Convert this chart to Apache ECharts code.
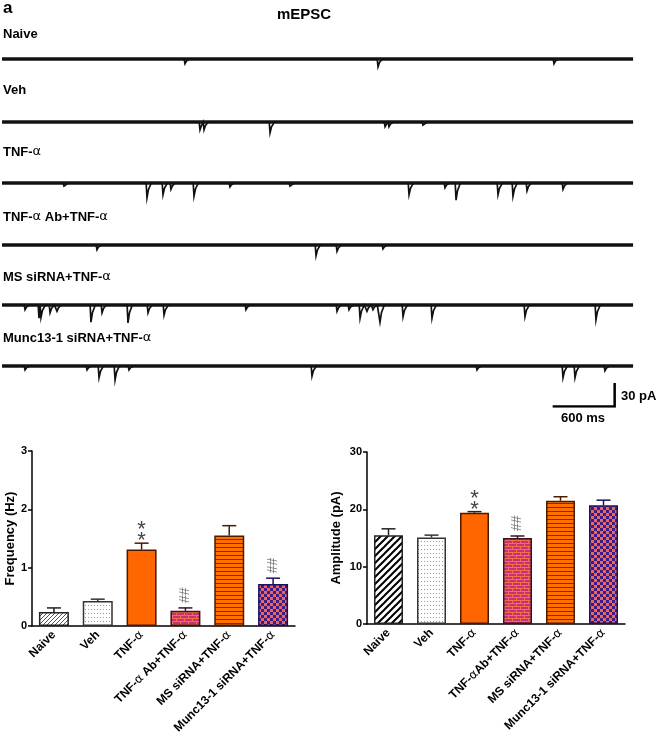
<!DOCTYPE html>
<html><head><meta charset="utf-8">
<script src="https://cdn.jsdelivr.net/npm/echarts@6/dist/echarts.min.js"></script>
<style>html,body{margin:0;padding:0;background:#fff}#c{width:660px;height:742px}</style>
</head><body><div id="c"></div>
<script>
// ---------------- DATA ----------------
const traceNames = ['Naive', 'Veh', 'TNF-α', 'TNF-α Ab+TNF-α', 'MS siRNA+TNF-α', 'Munc13-1 siRNA+TNF-α'];
const traceLengthMs = 6107;
// events: [time ms, amplitude pA (inward, drawn downward)]
const evNaive = [[1771, 6], [3639, 10], [5342, 6]];
const evVeh = [[1916, 10], [1955, 10], [2594, 14], [3707, 6], [3745, 6], [4074, 4]];
const evTNF = [[600, 4], [1403, 19], [1558, 15], [1635, 8], [1858, 17], [2206, 5], [2787, 4], [3939, 15], [4287, 6], [4394, 22], [4800, 15], [4945, 17], [5081, 10], [5429, 8]];
const evTNFAb = [[919, 6], [3039, 14], [3242, 8], [3687, 5]];
const evMS = [[223, 6], [358, 17], [377, 16], [465, 10], [532, 8], [861, 22], [968, 10], [1219, 23], [1413, 10], [1568, 13], [2361, 6], [3242, 8], [3358, 6], [3465, 17], [3532, 8], [3590, 6], [3658, 22], [3881, 15], [4161, 17], [5061, 15], [5748, 19]];
const evMunc = [[223, 5], [823, 5], [939, 15], [1094, 18], [1229, 5], [3000, 13], [4597, 5], [5429, 15], [5545, 15], [5835, 6]];
const scaleBarMs = 600;
const scaleBarPA = 30;

const freqCats = ['Naive', 'Veh', 'TNF-α', 'TNF-α Ab+TNF-α', 'MS siRNA+TNF-α', 'Munc13-1 siRNA+TNF-α'];
const freqMean = [0.24, 0.43, 1.31, 0.26, 1.55, 0.72];
const freqSEM = [0.07, 0.03, 0.11, 0.05, 0.17, 0.10];
const freqMarks = ['', '', '**', '##', '', '##'];
const freqTicks = [0, 1, 2, 3];

const ampCats = ['Naive', 'Veh', 'TNF-α', 'TNF-αAb+TNF-α', 'MS siRNA+TNF-α', 'Munc13-1 siRNA+TNF-α'];
const ampMean = [15.5, 15.1, 19.4, 15.0, 21.5, 20.7];
const ampSEM = [1.1, 0.4, 0.2, 0.35, 0.7, 0.9];
const ampMarks = ['', '', '**', '##', '', ''];
const ampTicks = [0, 10, 20, 30];

// ---------------- STYLE / LAYOUT ----------------
const FONT = '"Liberation Sans", Arial, sans-serif';
const pxPerMs = 62 / 600;
const pxPerPA = 0.78;
const traceLeft = 2;
const traceWidth = 6200 * pxPerMs;
const baselines = [59, 122, 183, 245, 305, 366];
const labelY = [34, 90, 152, 217, 277, 338];
const allEvents = [evNaive, evVeh, evTNF, evTNFAb, evMS, evMunc];

function pat(w, h, draw) {
  const c = document.createElement('canvas'); c.width = w; c.height = h;
  const g = c.getContext('2d'); draw(g, w, h);
  return { image: c, repeat: 'repeat' };
}
function diag(col, lw, s) {
  return pat(s, s, (g, w, h) => {
    g.fillStyle = '#fff'; g.fillRect(0, 0, w, h);
    g.strokeStyle = col; g.lineWidth = lw;
    g.beginPath();
    g.moveTo(-1, h + 1); g.lineTo(w + 1, -1);
    g.moveTo(-1, 1); g.lineTo(1, -1);
    g.moveTo(w - 1, h + 1); g.lineTo(w + 1, h - 1);
    g.stroke();
  });
}
const pDots = pat(3, 4, (g, w, h) => { g.fillStyle = '#fff'; g.fillRect(0, 0, w, h); g.fillStyle = '#9a9a9a'; g.fillRect(1, 1, 1, 1); });
const pBrick = pat(8, 6, (g, w, h) => {
  g.fillStyle = '#c8307a'; g.fillRect(0, 0, w, h);
  g.fillStyle = '#f07048';
  g.fillRect(0, 0, w, 1); g.fillRect(0, 3, w, 1);
  g.fillRect(0, 0, 1, 3); g.fillRect(4, 3, 1, 3);
});
const pStripe = pat(4, 4, (g, w, h) => { g.fillStyle = '#ff7000'; g.fillRect(0, 0, w, h); g.fillStyle = '#7a3000'; g.fillRect(0, 3, w, 1); });
const pCheck = pat(6, 6, (g, w, h) => {
  g.fillStyle = '#e8685e'; g.fillRect(0, 0, w, h);
  g.fillStyle = '#3a1c8c'; g.fillRect(0, 0, 3, 3); g.fillRect(3, 3, 3, 3);
});
const fillsL = [diag('#555', 1, 4), pDots, '#ff6600', pBrick, pStripe, pCheck];
const fillsR = [diag('#000', 2, 7), pDots, '#ff6600', pBrick, pStripe, pCheck];
const borders = ['#222', '#333', '#4a1800', '#3a1024', '#4a1c00', '#1c1060'];

function buildTrace(ev) {
  const pts = [[0, 0]];
  ev.forEach(([t, a]) => {
    while (pts.length > 1 && pts[pts.length - 1][0] >= t - 8) pts.pop();
    pts.push([t - 8, 0], [t, -a], [t + 14, -a * 0.45], [t + 42, 0]);
  });
  pts.push([traceLengthMs, 0]);
  return pts;
}

function richLabel(s) {
  return s.split('α').map(p => p ? '{b|' + p + '}' : '').join('{a|α}');
}

const grids = [], xAxes = [], yAxes = [], series = [];
baselines.forEach((b, i) => {
  grids.push({ left: traceLeft, width: traceWidth, top: b - 15 * pxPerPA, height: 65 * pxPerPA });
  xAxes.push({ gridIndex: i, type: 'value', min: 0, max: 6200, show: false });
  yAxes.push({ gridIndex: i, type: 'value', min: -50, max: 15, show: false });
  // recording baseline (noise band)
  series.push({ type: 'line', xAxisIndex: i, yAxisIndex: i, data: [[0, 0], [traceLengthMs, 0]], symbol: 'none',
    lineStyle: { color: '#161616', width: 3.4 }, animation: false, silent: true });
  // synaptic events
  series.push({ type: 'line', xAxisIndex: i, yAxisIndex: i, data: buildTrace(allEvents[i]), symbol: 'none',
    lineStyle: { color: '#111', width: 1.7, join: 'miter' }, animation: false, silent: true });
});
// scale bar grid
const sbEnd = 5929;
grids.push({ left: traceLeft, width: traceWidth, top: 383, height: scaleBarPA * pxPerPA });
xAxes.push({ gridIndex: 6, type: 'value', min: 0, max: 6200, show: false });
yAxes.push({ gridIndex: 6, type: 'value', min: 0, max: scaleBarPA, show: false });
series.push({ type: 'line', xAxisIndex: 6, yAxisIndex: 6, symbol: 'none', animation: false,
  data: [[sbEnd - scaleBarMs, 0], [sbEnd, 0], [sbEnd, scaleBarPA]], lineStyle: { color: '#000', width: 2.5, join: 'miter' } });

// bar charts
function addBarChart(gi, cats, mean, sem, marks, ticks, fills, rect, barW, name, nameGap) {
  grids.push({ left: rect.left, top: rect.top, width: rect.width, height: rect.height });
  xAxes.push({ gridIndex: gi, type: 'category', data: cats,
    axisLine: { show: true, lineStyle: { color: '#000', width: 1.5 } }, axisTick: { show: false },
    axisLabel: { rotate: 45, margin: 7, interval: 0, formatter: v => richLabel(v),
      rich: { b: { fontFamily: FONT, fontWeight: 'bold', fontSize: 12, color: '#000' },
              a: { fontFamily: '"DejaVu Sans", sans-serif', fontWeight: 'normal', fontSize: 12, color: '#000' } } } });
  yAxes.push({ gridIndex: gi, type: 'value', min: ticks[0], max: ticks[ticks.length - 1], interval: ticks[1] - ticks[0],
    splitLine: { show: false },
    axisLine: { show: true, lineStyle: { color: '#000', width: 1.5 } },
    axisTick: { show: true, length: 4, lineStyle: { color: '#000', width: 1.5 } },
    axisLabel: { fontFamily: FONT, fontWeight: 'bold', fontSize: 11, color: '#000', margin: 5 },
    name: name, nameLocation: 'middle', nameRotate: 90, nameGap: nameGap,
    nameTextStyle: { fontFamily: FONT, fontWeight: 'bold', fontSize: 13, color: '#000' } });
  series.push({ type: 'bar', xAxisIndex: gi, yAxisIndex: gi, barWidth: barW, animation: false,
    data: mean.map((v, i) => ({ value: v, itemStyle: { color: fills[i], borderColor: borders[i], borderWidth: 1.5 } })) });
  series.push({ type: 'custom', xAxisIndex: gi, yAxisIndex: gi, animation: false, z: 5,
    data: mean.map((v, i) => [i, v, sem[i], i]),
    renderItem: (params, api) => {
      const idx = api.value(3);
      const p0 = api.coord([api.value(0), api.value(1)]);
      const p1 = api.coord([api.value(0), api.value(1) + api.value(2)]);
      const col = borders[idx];
      const ch = [
        { type: 'line', shape: { x1: p0[0], y1: p0[1], x2: p1[0], y2: p1[1] }, style: { stroke: col, lineWidth: 1.5 } },
        { type: 'line', shape: { x1: p1[0] - 7, y1: p1[1], x2: p1[0] + 7, y2: p1[1] }, style: { stroke: col, lineWidth: 1.5 } }
      ];
      const m = marks[idx];
      if (m && m[0] === '*') {
        // two asterisks stacked vertically
        for (let k = 0; k < m.length; k++) {
          const cy = p1[1] - 7 - k * 11;
          ch.push({ type: 'text', x: p1[0], y: cy - 6, style: { text: '*', fill: '#444', font: '22px ' + FONT,
            align: 'center', verticalAlign: 'top' } });
        }
      } else if (m) {
        ch.push({ type: 'text', x: p1[0], y: p1[1] - 5, rotation: Math.PI / 2,
          style: { text: m, fill: '#777', font: '14px ' + FONT, align: 'left', verticalAlign: 'middle' } });
      }
      return { type: 'group', children: ch };
    } });
}
addBarChart(7, freqCats, freqMean, freqSEM, freqMarks, freqTicks, fillsL,
  { left: 32, top: 451, width: 263, height: 175 }, 30, 'Frequency (Hz)', 14);
addBarChart(8, ampCats, ampMean, ampSEM, ampMarks, ampTicks, fillsR,
  { left: 367, top: 452, width: 258, height: 172 }, 29, 'Amplitude (pA)', 24);

const graphic = [
  { type: 'text', left: 3, top: 0, style: { text: 'a', font: 'bold 17px ' + FONT, fill: '#000' } },
  { type: 'text', x: 304, y: 15, style: { text: 'mEPSC', font: 'bold 15px ' + FONT, fill: '#000', align: 'center', verticalAlign: 'middle' } },
  { type: 'text', x: 621, y: 396, style: { text: scaleBarPA + ' pA', font: 'bold 13px ' + FONT, fill: '#000', align: 'left', verticalAlign: 'middle' } },
  { type: 'text', x: 583, y: 418, style: { text: scaleBarMs + ' ms', font: 'bold 13px ' + FONT, fill: '#000', align: 'center', verticalAlign: 'middle' } }
];
traceNames.forEach((n, i) => {
  graphic.push({ type: 'text', x: 3, y: labelY[i], style: { text: richLabel(n), align: 'left', verticalAlign: 'middle',
    rich: { b: { fontFamily: FONT, fontWeight: 'bold', fontSize: 13, fill: '#000', color: '#000' },
            a: { fontFamily: '"DejaVu Sans", sans-serif', fontWeight: 'normal', fontSize: 13, fill: '#000', color: '#000' } } } });
});

const chart = echarts.init(document.getElementById('c'), null, { renderer: 'canvas' });
chart.setOption({ backgroundColor: '#fff', animation: false, grid: grids, xAxis: xAxes, yAxis: yAxes, series: series, graphic: graphic });
</script></body></html>
